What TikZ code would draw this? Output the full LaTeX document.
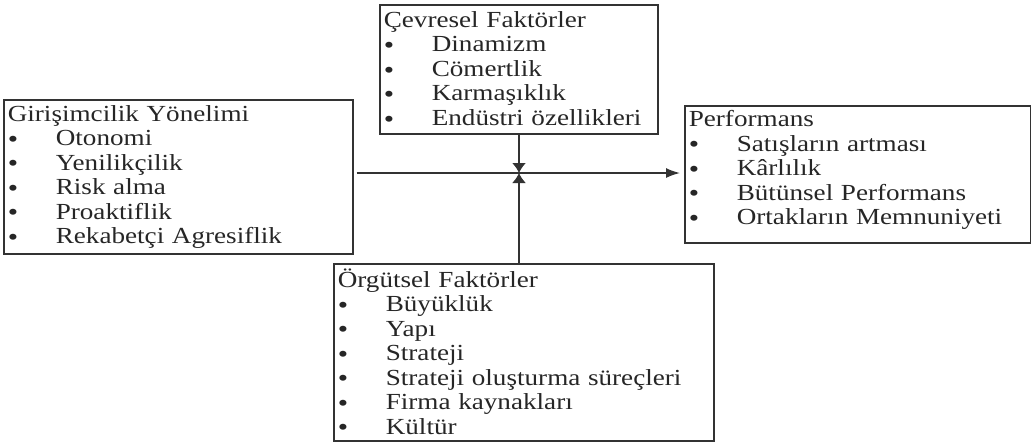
\documentclass[tikz,border=0pt]{standalone}
\usepackage{fontspec}
\setmainfont{Liberation Serif}[FakeStretch=1.18]
\usetikzlibrary{positioning, arrows.meta}
\newcommand{\blt}[1]{\makebox[24pt][l]{\raisebox{-0.8pt}{\fontsize{12.5}{12.5}\selectfont\textbullet}}#1}

\begin{document}
\begin{tikzpicture}[x=0.5pt, y=-0.5pt, line width=0.8pt, draw=black!80,
    every node/.style={font=\fontsize{11.5}{12.25}\selectfont, text=black!85},
    box/.style={draw=black!80, anchor=north west, align=left, inner xsep=2pt, inner ysep=0pt}]

        \useasboundingbox (0,0) rectangle (1031,447);

        % Boxes
        \node (gy) [box, text width=170.5pt, minimum height=77pt] at (3,99)
            {Girişimcilik Yönelimi\\ \blt{Otonomi}\\ \blt{Yenilikçilik}\\ \blt{Risk alma}\\ \blt{Proaktiflik}\\ \blt{Rekabetçi Agresiflik}};
        \node (cf) [box, text width=135pt, minimum height=64.5pt] at (379,4)
            {Çevresel Faktörler\\ \blt{Dinamizm}\\ \blt{Cömertlik}\\ \blt{Karmaşıklık}\\ \blt{Endüstri özellikleri}};
        \node (perf) [box, text width=169pt, minimum height=68.5pt] at (684,105)
            {Performans\\ \blt{Satışların artması}\\ \blt{Kârlılık}\\ \blt{Bütünsel Performans}\\ \blt{Ortakların Memnuniyeti}\\[-5.5pt]\mbox{}};
        \node (of) [box, text width=186pt, minimum height=88.5pt] at (333,263)
            {Örgütsel Faktörler\\ \blt{Büyüklük}\\ \blt{Yapı}\\ \blt{Strateji}\\ \blt{Strateji oluşturma süreçleri}\\ \blt{Firma kaynakları}\\ \blt{Kültür}};

        % Meeting point of the arrows
        \coordinate (m) at (519,173);

        % Arrows
        \draw[-{Latex[length=7pt,width=5pt]}, shorten <=1.5pt, shorten >=2pt] (gy.east |- m) -- (perf.west |- m);
        \draw[-{Latex[length=5pt,width=7pt]}] (cf.south -| m) -- (m);
        \draw[-{Latex[length=5pt,width=7pt]}] (of.north -| m) -- (m);

        \end{tikzpicture}
\end{document}
